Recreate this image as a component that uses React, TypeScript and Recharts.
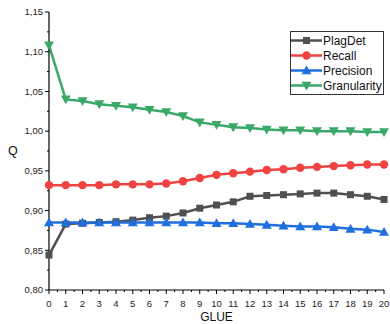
import { LineChart, Line, XAxis, YAxis, Legend } from "recharts";

const glue = [0, 1, 2, 3, 4, 5, 6, 7, 8, 9, 10, 11, 12, 13, 14, 15, 16, 17, 18, 19, 20];
const plagDet = [0.844, 0.883, 0.884, 0.885, 0.886, 0.888, 0.891, 0.893, 0.897, 0.903, 0.907, 0.911, 0.918, 0.919, 0.92, 0.921, 0.922, 0.922, 0.92, 0.918, 0.914];
const recall = [0.932, 0.932, 0.932, 0.932, 0.933, 0.933, 0.933, 0.934, 0.937, 0.941, 0.945, 0.947, 0.949, 0.951, 0.952, 0.954, 0.955, 0.956, 0.957, 0.958, 0.958];
const precision = [0.885, 0.885, 0.885, 0.885, 0.885, 0.885, 0.885, 0.885, 0.885, 0.885, 0.884, 0.884, 0.883, 0.882, 0.881, 0.88, 0.88, 0.879, 0.877, 0.876, 0.873];
const granularity = [1.108, 1.04, 1.038, 1.034, 1.032, 1.03, 1.027, 1.024, 1.019, 1.011, 1.008, 1.005, 1.004, 1.002, 1.001, 1.001, 1.0, 1.0, 1.0, 0.999, 0.999];

const yTicks = [0.8, 0.825, 0.85, 0.875, 0.9, 0.925, 0.95, 0.975, 1.0, 1.025, 1.05, 1.075, 1.1, 1.125, 1.15];
const xTicks = [0, 0.5, 1, 1.5, 2, 2.5, 3, 3.5, 4, 4.5, 5, 5.5, 6, 6.5, 7, 7.5, 8, 8.5, 9, 9.5, 10, 10.5, 11, 11.5, 12, 12.5, 13, 13.5, 14, 14.5, 15, 15.5, 16, 16.5, 17, 17.5, 18, 18.5, 19, 19.5, 20];

const data = glue.map((g, i) => ({
  glue: g,
  plagDet: plagDet[i],
  recall: recall[i],
  precision: precision[i],
  granularity: granularity[i],
}));

const FONT = "'Liberation Sans', Arial, sans-serif";

const series = [
  { key: "plagDet", name: "PlagDet", color: "#505050", shape: "square" },
  { key: "recall", name: "Recall", color: "#f04240", shape: "circle" },
  { key: "precision", name: "Precision", color: "#1f6fdf", shape: "up" },
  { key: "granularity", name: "Granularity", color: "#3aa866", shape: "down" },
];

function marker(shape: string, cx: number, cy: number, color: string, key?: any) {
  if (shape === "square") return <rect key={key} x={cx - 3.5} y={cy - 3.5} width={7} height={7} fill={color} />;
  if (shape === "circle") return <circle key={key} cx={cx} cy={cy} r={4.2} fill={color} />;
  if (shape === "up")
    return <polygon key={key} points={`${cx},${cy - 5} ${cx - 5},${cy + 3.8} ${cx + 5},${cy + 3.8}`} fill={color} />;
  return <polygon key={key} points={`${cx - 5},${cy - 3.8} ${cx + 5},${cy - 3.8} ${cx},${cy + 5}`} fill={color} />;
}

const YTick = (props: any) => {
  const { x, y, payload } = props;
  const major = Math.round(payload.value * 1000) % 50 === 0;
  return (
    <g>
      <line x1={x} x2={x - (major ? 4 : 2)} y1={y} y2={y} stroke="#000" strokeWidth={1} />
      {major && (
        <text x={x - 6} y={y} dy="0.35em" textAnchor="end" fontSize={9.5} fontFamily={FONT} fill="#222">
          {payload.value.toFixed(2).replace(".", ",")}
        </text>
      )}
    </g>
  );
};

const XTick = (props: any) => {
  const { x, y, payload } = props;
  const major = Number.isInteger(payload.value);
  return (
    <g>
      <line x1={x} x2={x} y1={y} y2={y + (major ? 4 : 2)} stroke="#000" strokeWidth={1} />
      {major && (
        <text x={x} y={y + 17} textAnchor="middle" fontSize={9.5} fontFamily={FONT} fill="#222">
          {payload.value}
        </text>
      )}
    </g>
  );
};

const LegendBox = () => (
  <div
    style={{
      border: "1px solid #333",
      background: "#fff",
      padding: "1px 1px 1px 0",
      fontFamily: FONT,
      fontSize: 12,
      color: "#111",
    }}
  >
    {series.map((s) => (
      <div key={s.key} style={{ display: "flex", alignItems: "center", height: 15 }}>
        <svg width={31} height={15}>
          <line x1={0} x2={31} y1={7.5} y2={7.5} stroke={s.color} strokeWidth={2.5} />
          {marker(s.shape, 15.5, 7.5, s.color)}
        </svg>
        <span style={{ marginLeft: 1, whiteSpace: "nowrap" }}>{s.name}</span>
      </div>
    ))}
  </div>
);

export default function App() {
  return (
    <div style={{ position: "absolute", left: 0, top: 0, background: "#fff" }}>
      <LineChart width={390} height={324} data={data} margin={{ top: 12, right: 6, bottom: 0, left: 0 }}>
        <XAxis
          dataKey="glue"
          type="number"
          domain={[0, 20]}
          ticks={xTicks}
          interval={0}
          tickSize={0}
          tickMargin={0}
          tickLine={false}
          tick={(p: any) => <XTick {...p} />}
          height={34}
          stroke="#000"
          strokeWidth={1.2}
          label={{ value: "GLUE", position: "insideBottom", offset: 3, fontSize: 12, fontFamily: FONT, fill: "#111" }}
        />
        <YAxis
          type="number"
          domain={[0.8, 1.15]}
          ticks={yTicks}
          interval={0}
          tickSize={0}
          tickMargin={0}
          tickLine={false}
          tick={(p: any) => <YTick {...p} />}
          width={49}
          stroke="#000"
          strokeWidth={1.2}
          allowDataOverflow
          label={{ value: "Q", position: "insideLeft", offset: 8, fontSize: 12.5, fontFamily: FONT, fill: "#111" }}
        />
        <Legend
          verticalAlign="middle"
          align="center"
          layout="vertical"
          content={() => <LegendBox />}
          wrapperStyle={{ left: 290, top: 31, width: "auto", right: "auto", bottom: "auto" }}
        />
        {series.map((s) => (
          <Line
            key={s.key}
            dataKey={s.key}
            name={s.name}
            stroke={s.color}
            strokeWidth={2.5}
            isAnimationActive={false}
            dot={(p: any) => marker(s.shape, p.cx, p.cy, s.color, `${s.key}-${p.index}`)}
            activeDot={false}
          />
        ))}
      </LineChart>
    </div>
  );
}
